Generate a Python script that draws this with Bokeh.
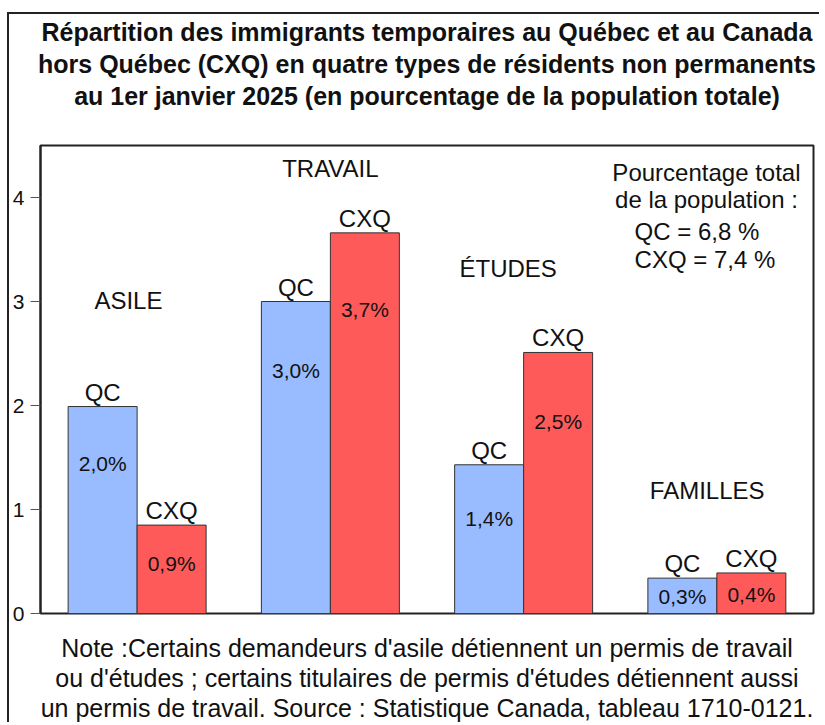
import numpy as np
from bokeh.plotting import figure
from bokeh.models import Range1d, FixedTicker, Title, ColumnDataSource
from bokeh.core.properties import value
from bokeh.embed import file_html
from bokeh.resources import INLINE

# ---------------- data ----------------
categories = ["ASILE", "TRAVAIL", "ÉTUDES", "FAMILLES"]
qc_values = [1.99, 3.00, 1.43, 0.34]
cxq_values = [0.85, 3.66, 2.51, 0.39]
qc_labels = ["2,0%", "3,0%", "1,4%", "0,3%"]
cxq_labels = ["0,9%", "3,7%", "2,5%", "0,4%"]
series_names = ["QC", "CXQ"]
y_ticks = [0, 1, 2, 3, 4]

title_lines = [
    "Répartition des immigrants temporaires au Québec et au Canada",
    "hors Québec (CXQ) en quatre types de résidents non permanents",
    "au 1er janvier 2025 (en pourcentage de la population totale)",
]
note_lines = [
    "Note :Certains demandeurs d'asile détiennent un permis de travail",
    "ou d'études ; certains titulaires de permis d'études détiennent aussi",
    "un permis de travail. Source : Statistique Canada, tableau 1710-0121.",
]
total_lines = ["Pourcentage total", "de la population :", "QC = 6,8 %", "CXQ = 7,4 %"]

# ---------------- placement (layout only) ----------------
bar_w = 0.357
qc_label_y = [1.44, 2.34, 0.91, 0.16]
cxq_label_y = [0.48, 2.92, 1.85, 0.18]
group_label_dx = [-0.045, 0.0, -0.08, -0.05]
group_label_y = [3.01, 4.28, 3.32, 1.18]

FONT = "Liberation Sans"
QC_COLOR = "#99BBFF"
CXQ_COLOR = "#FF5A5A"

centers = np.arange(len(categories)) + 0.5
qc_x = centers - bar_w / 2
cxq_x = centers + bar_w / 2

p = figure(width=812, height=710, output_backend="svg", toolbar_location=None,
           x_range=Range1d(0, 4), y_range=Range1d(0, 4.5),
           min_border_left=31, min_border_right=8, min_border_top=0, min_border_bottom=111)
p.styles = {"border-left": "2px solid #222", "border-top": "2px solid #222",
            "position": "relative", "top": "12px", "left": "7px"}

p.xaxis.visible = False
p.xgrid.visible = False
p.ygrid.visible = False
p.outline_line_color = "#222222"
p.outline_line_width = 2
p.background_fill_color = "white"
p.border_fill_color = "white"

ax = p.yaxis[0]
ax.ticker = FixedTicker(ticks=y_ticks)
ax.major_tick_out = 10
ax.major_tick_in = 0
ax.minor_tick_line_color = None
ax.major_tick_line_color = "#555555"
ax.axis_line_color = "#222222"
ax.axis_line_width = 2
ax.major_label_text_font = FONT
ax.major_label_text_font_size = "21px"
ax.major_label_text_color = "#111111"
ax.major_label_standoff = 6

src_qc = ColumnDataSource(dict(x=qc_x, top=qc_values, lab=qc_labels, ly=qc_label_y,
                               name=[series_names[0]] * 4))
src_cxq = ColumnDataSource(dict(x=cxq_x, top=cxq_values, lab=cxq_labels, ly=cxq_label_y,
                                name=[series_names[1]] * 4))

for src, col in ((src_qc, QC_COLOR), (src_cxq, CXQ_COLOR)):
    p.vbar(x="x", top="top", bottom=0, width=bar_w, source=src,
           fill_color=col, line_color="#333333", line_width=1)
    p.text(x="x", y="top", text="name", source=src, text_font=value(FONT),
           text_font_size="24px", text_align="center", text_baseline="bottom",
           y_offset=-1, text_color="#111111")
    p.text(x="x", y="ly", text="lab", source=src, text_font=value(FONT),
           text_font_size="21px", text_align="center", text_baseline="middle",
           text_color="#111111")

p.text(x=centers + np.array(group_label_dx), y=group_label_y, text=categories,
       text_font=value(FONT), text_font_size="24px", text_align="center",
       text_baseline="middle", text_color="#111111")

# total percentage annotation
p.text(x=[3.446, 3.446], y=[4.24, 3.98], text=total_lines[:2],
       text_font=value(FONT), text_font_size="24px", text_align="center",
       text_baseline="middle", text_color="#111111")
p.text(x=[3.074, 3.074], y=[3.67, 3.40], text=[" " + total_lines[2], " " + total_lines[3]],
       text_font=value(FONT), text_font_size="24px", text_align="left",
       text_baseline="middle", text_color="#111111")

# title block: spacer next to frame, then lines 3,2,1
p.add_layout(Title(text=" ", text_font=FONT, text_font_size="29.5px", standoff=0), "above")
for line in reversed(title_lines):
    t = Title(text=line, align="center", text_font=FONT, text_font_size="25px",
              text_font_style="bold", text_color="#111111", standoff=1.5)
    p.add_layout(t, "above")

# note block below the frame (spacer then three lines)
p.add_layout(Title(text=" ", text_font=FONT, text_font_size="14.5px", standoff=0), "below")
for line in note_lines:
    t = Title(text=line, align="center", text_font=FONT, text_font_size="25px",
              text_font_style="normal", text_color="#111111", standoff=0)
    p.add_layout(t, "below")

open("out.html", "w").write(file_html(p, INLINE))
